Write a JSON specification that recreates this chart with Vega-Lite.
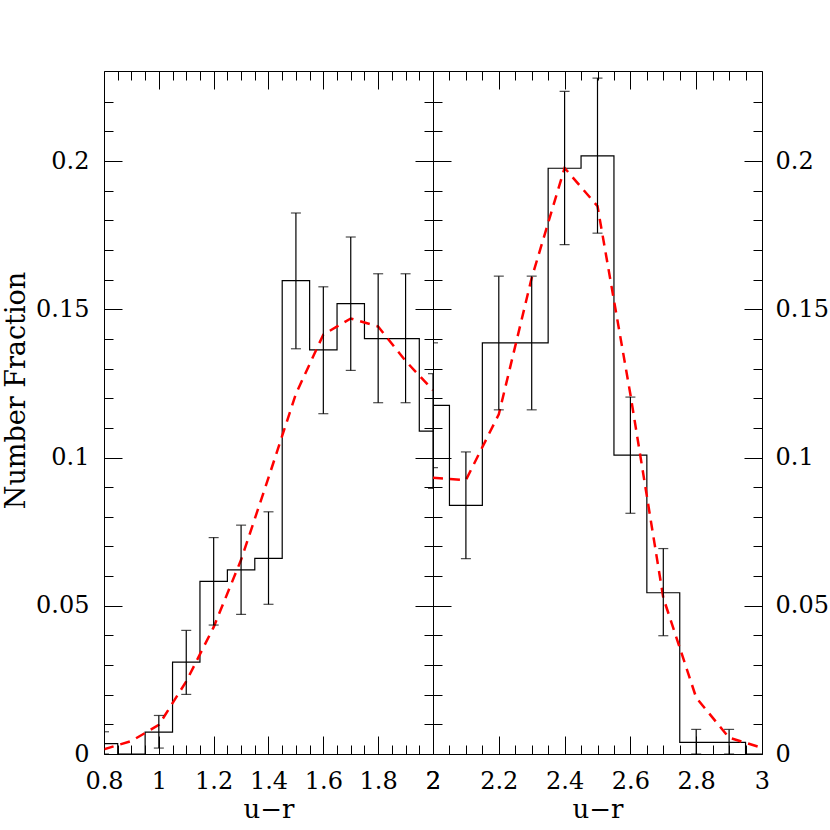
{
  "$schema": "https://vega.github.io/schema/vega-lite/v6.json",
  "padding": {"left": 2, "top": 70, "right": 0, "bottom": 0},
  "background": "white",
  "bounds": "flush",
  "spacing": 0,
  "config": {
    "view": {"stroke": "black", "strokeWidth": 1},
    "axis": {
      "labelFont": "DejaVu Serif", "labelFontSize": 24, "labelColor": "black",
      "titleFont": "DejaVu Serif", "titleFontSize": 26, "titleFontWeight": "normal", "titleColor": "black",
      "tickColor": "black", "tickWidth": 1, "domain": false, "grid": false,
      "labelOverlap": false, "labelFlush": false
    }
  },
  "datasets": {
    "histL": [
      {"x": 0.8, "y": 0.0035}, {"x": 0.9, "y": 0}, {"x": 1.0, "y": 0.0074}, {"x": 1.1, "y": 0.031},
      {"x": 1.2, "y": 0.0582}, {"x": 1.3, "y": 0.0621}, {"x": 1.4, "y": 0.066}, {"x": 1.5, "y": 0.1597},
      {"x": 1.6, "y": 0.1363}, {"x": 1.7, "y": 0.1519}, {"x": 1.8, "y": 0.1401}, {"x": 1.9, "y": 0.1401},
      {"x": 2.0, "y": 0.1089}
    ],
    "errL": [
      {"x": 0.8, "lo": 0, "hi": 0.0075}, {"x": 1.0, "lo": 0.002, "hi": 0.013}, {"x": 1.1, "lo": 0.0201, "hi": 0.0417},
      {"x": 1.2, "lo": 0.0435, "hi": 0.073}, {"x": 1.3, "lo": 0.0471, "hi": 0.0772}, {"x": 1.4, "lo": 0.0505, "hi": 0.0817},
      {"x": 1.5, "lo": 0.1367, "hi": 0.1825}, {"x": 1.6, "lo": 0.1148, "hi": 0.1576}, {"x": 1.7, "lo": 0.1294, "hi": 0.1744},
      {"x": 1.8, "lo": 0.1185, "hi": 0.162}, {"x": 1.9, "lo": 0.1185, "hi": 0.162}, {"x": 2.0, "lo": 0.0896, "hi": 0.1283}
    ],
    "curveL": [
      {"x": 0.8, "y": 0.0016}, {"x": 0.9, "y": 0.0044}, {"x": 1.0, "y": 0.0098}, {"x": 1.1, "y": 0.0245},
      {"x": 1.2, "y": 0.0428}, {"x": 1.3, "y": 0.0655}, {"x": 1.4, "y": 0.0932}, {"x": 1.5, "y": 0.1215},
      {"x": 1.6, "y": 0.1415}, {"x": 1.7, "y": 0.1469}, {"x": 1.8, "y": 0.1442}, {"x": 1.9, "y": 0.1326},
      {"x": 2.0, "y": 0.1227}
    ],
    "histR": [
      {"x": 2.0, "y": 0.1176}, {"x": 2.1, "y": 0.0839}, {"x": 2.2, "y": 0.1387}, {"x": 2.3, "y": 0.1387},
      {"x": 2.4, "y": 0.1976}, {"x": 2.5, "y": 0.2018}, {"x": 2.6, "y": 0.1008}, {"x": 2.7, "y": 0.0544},
      {"x": 2.8, "y": 0.0039}, {"x": 2.9, "y": 0.0039}, {"x": 3.0, "y": 0}
    ],
    "errR": [
      {"x": 2.0, "lo": 0.0966, "hi": 0.1387}, {"x": 2.1, "lo": 0.0659, "hi": 0.1019}, {"x": 2.2, "lo": 0.1161, "hi": 0.1612},
      {"x": 2.3, "lo": 0.1161, "hi": 0.1612}, {"x": 2.4, "lo": 0.1718, "hi": 0.2235}, {"x": 2.5, "lo": 0.1757, "hi": 0.228},
      {"x": 2.6, "lo": 0.0812, "hi": 0.1204}, {"x": 2.7, "lo": 0.0399, "hi": 0.0693}, {"x": 2.8, "lo": 0, "hi": 0.0083},
      {"x": 2.9, "lo": 0, "hi": 0.0083}
    ],
    "curveR": [
      {"x": 2.0, "y": 0.0932}, {"x": 2.1, "y": 0.0924}, {"x": 2.2, "y": 0.1146}, {"x": 2.3, "y": 0.1606},
      {"x": 2.4, "y": 0.1977}, {"x": 2.5, "y": 0.1848}, {"x": 2.6, "y": 0.1213}, {"x": 2.7, "y": 0.0527},
      {"x": 2.8, "y": 0.019}, {"x": 2.9, "y": 0.0055}, {"x": 3.0, "y": 0.0021}
    ]
  },
  "hconcat": [
    {
      "width": 329, "height": 683,
      "resolve": {"axis": {"x": "independent", "y": "independent"}},
      "layer": [
        {
          "data": {"name": "histL"},
          "mark": {"type": "line", "interpolate": "step", "color": "black", "strokeWidth": 1.2, "clip": true},
          "encoding": {
            "x": {"field": "x", "type": "quantitative", "scale": {"domain": [0.8, 2.0], "nice": false, "zero": false},
              "axis": {"orient": "bottom", "title": "u−r", "titlePadding": -6,
                "values": [0.8,0.85,0.9,0.95,1,1.05,1.1,1.15,1.2,1.25,1.3,1.35,1.4,1.45,1.5,1.55,1.6,1.65,1.7,1.75,1.8,1.85,1.9,1.95,2],
                "tickSize": {"condition": {"test": "abs(datum.value/0.2-round(datum.value/0.2))<0.001", "value": -18}, "value": -9},
                "labelPadding": 33,
                "labelExpr": "abs(datum.value/0.2-round(datum.value/0.2))<0.001 ? format(datum.value,'~g') : ''"}},
            "y": {"field": "y", "type": "quantitative", "scale": {"domain": [0, 0.2304], "nice": false, "zero": false},
              "axis": {"orient": "left", "title": "Number Fraction", "titleFontSize": 27, "titlePadding": 5, "titleY": 319,
                "values": [0,0.01,0.02,0.03,0.04,0.05,0.06,0.07,0.08,0.09,0.1,0.11,0.12,0.13,0.14,0.15,0.16,0.17,0.18,0.19,0.2,0.21,0.22],
                "tickSize": {"condition": {"test": "abs(datum.value/0.05-round(datum.value/0.05))<0.001", "value": -18}, "value": -9},
                "labelPadding": 33,
                "labelExpr": "abs(datum.value/0.05-round(datum.value/0.05))<0.001 ? format(datum.value,'~g') : ''"}}
          }
        },
        {
          "data": {"name": "curveL"},
          "mark": {"type": "line", "color": "red", "strokeWidth": 2.5, "strokeDash": [10, 7], "clip": true},
          "encoding": {
            "x": {"field": "x", "type": "quantitative", "scale": {"domain": [0.8, 2.0], "nice": false, "zero": false},
              "axis": {"orient": "top", "title": null, "labels": false,
                "values": [0.8,0.85,0.9,0.95,1,1.05,1.1,1.15,1.2,1.25,1.3,1.35,1.4,1.45,1.5,1.55,1.6,1.65,1.7,1.75,1.8,1.85,1.9,1.95,2],
                "tickSize": {"condition": {"test": "abs(datum.value/0.2-round(datum.value/0.2))<0.001", "value": -18}, "value": -9}}},
            "y": {"field": "y", "type": "quantitative", "scale": {"domain": [0, 0.2304], "nice": false, "zero": false},
              "axis": {"orient": "right", "title": null, "labels": false,
                "values": [0,0.01,0.02,0.03,0.04,0.05,0.06,0.07,0.08,0.09,0.1,0.11,0.12,0.13,0.14,0.15,0.16,0.17,0.18,0.19,0.2,0.21,0.22],
                "tickSize": {"condition": {"test": "abs(datum.value/0.05-round(datum.value/0.05))<0.001", "value": -18}, "value": -9}}}
          }
        },
        {
          "data": {"name": "errL"},
          "mark": {"type": "rule", "color": "black", "strokeWidth": 1.2, "clip": true},
          "encoding": {
            "x": {"field": "x", "type": "quantitative", "axis": null},
            "y": {"field": "lo", "type": "quantitative", "axis": null},
            "y2": {"field": "hi"}
          }
        },
        {
          "data": {"name": "errL"},
          "mark": {"type": "tick", "orient": "horizontal", "color": "black", "size": 10, "thickness": 1.2, "clip": true},
          "encoding": {
            "x": {"field": "x", "type": "quantitative", "axis": null},
            "y": {"field": "lo", "type": "quantitative", "axis": null}
          }
        },
        {
          "data": {"name": "errL"},
          "mark": {"type": "tick", "orient": "horizontal", "color": "black", "size": 10, "thickness": 1.2, "clip": true},
          "encoding": {
            "x": {"field": "x", "type": "quantitative", "axis": null},
            "y": {"field": "hi", "type": "quantitative", "axis": null}
          }
        }
      ]
    },
    {
      "width": 329, "height": 683,
      "resolve": {"axis": {"x": "independent", "y": "independent"}},
      "layer": [
        {
          "data": {"name": "histR"},
          "mark": {"type": "line", "interpolate": "step", "color": "black", "strokeWidth": 1.2, "clip": true},
          "encoding": {
            "x": {"field": "x", "type": "quantitative", "scale": {"domain": [2.0, 3.0], "nice": false, "zero": false},
              "axis": {"orient": "bottom", "title": "u−r", "titlePadding": -6,
                "values": [2,2.05,2.1,2.15,2.2,2.25,2.3,2.35,2.4,2.45,2.5,2.55,2.6,2.65,2.7,2.75,2.8,2.85,2.9,2.95,3],
                "tickSize": {"condition": {"test": "abs(datum.value/0.2-round(datum.value/0.2))<0.001", "value": -18}, "value": -9},
                "labelPadding": 33,
                "labelExpr": "abs(datum.value/0.2-round(datum.value/0.2))<0.001 ? format(datum.value,'~g') : ''"}},
            "y": {"field": "y", "type": "quantitative", "scale": {"domain": [0, 0.2304], "nice": false, "zero": false},
              "axis": {"orient": "right", "title": null,
                "values": [0,0.01,0.02,0.03,0.04,0.05,0.06,0.07,0.08,0.09,0.1,0.11,0.12,0.13,0.14,0.15,0.16,0.17,0.18,0.19,0.2,0.21,0.22],
                "tickSize": {"condition": {"test": "abs(datum.value/0.05-round(datum.value/0.05))<0.001", "value": -18}, "value": -9},
                "labelPadding": 31,
                "labelExpr": "abs(datum.value/0.05-round(datum.value/0.05))<0.001 ? format(datum.value,'~g') : ''"}}
          }
        },
        {
          "data": {"name": "curveR"},
          "mark": {"type": "line", "color": "red", "strokeWidth": 2.5, "strokeDash": [10, 7], "clip": true},
          "encoding": {
            "x": {"field": "x", "type": "quantitative", "scale": {"domain": [2.0, 3.0], "nice": false, "zero": false},
              "axis": {"orient": "top", "title": null, "labels": false,
                "values": [2,2.05,2.1,2.15,2.2,2.25,2.3,2.35,2.4,2.45,2.5,2.55,2.6,2.65,2.7,2.75,2.8,2.85,2.9,2.95,3],
                "tickSize": {"condition": {"test": "abs(datum.value/0.2-round(datum.value/0.2))<0.001", "value": -18}, "value": -9}}},
            "y": {"field": "y", "type": "quantitative", "scale": {"domain": [0, 0.2304], "nice": false, "zero": false},
              "axis": {"orient": "left", "title": null, "labels": false,
                "values": [0,0.01,0.02,0.03,0.04,0.05,0.06,0.07,0.08,0.09,0.1,0.11,0.12,0.13,0.14,0.15,0.16,0.17,0.18,0.19,0.2,0.21,0.22],
                "tickSize": {"condition": {"test": "abs(datum.value/0.05-round(datum.value/0.05))<0.001", "value": -18}, "value": -9}}}
          }
        },
        {
          "data": {"name": "errR"},
          "mark": {"type": "rule", "color": "black", "strokeWidth": 1.2, "clip": true},
          "encoding": {
            "x": {"field": "x", "type": "quantitative", "axis": null},
            "y": {"field": "lo", "type": "quantitative", "axis": null},
            "y2": {"field": "hi"}
          }
        },
        {
          "data": {"name": "errR"},
          "mark": {"type": "tick", "orient": "horizontal", "color": "black", "size": 10, "thickness": 1.2, "clip": true},
          "encoding": {
            "x": {"field": "x", "type": "quantitative", "axis": null},
            "y": {"field": "lo", "type": "quantitative", "axis": null}
          }
        },
        {
          "data": {"name": "errR"},
          "mark": {"type": "tick", "orient": "horizontal", "color": "black", "size": 10, "thickness": 1.2, "clip": true},
          "encoding": {
            "x": {"field": "x", "type": "quantitative", "axis": null},
            "y": {"field": "hi", "type": "quantitative", "axis": null}
          }
        }
      ]
    }
  ]
}
